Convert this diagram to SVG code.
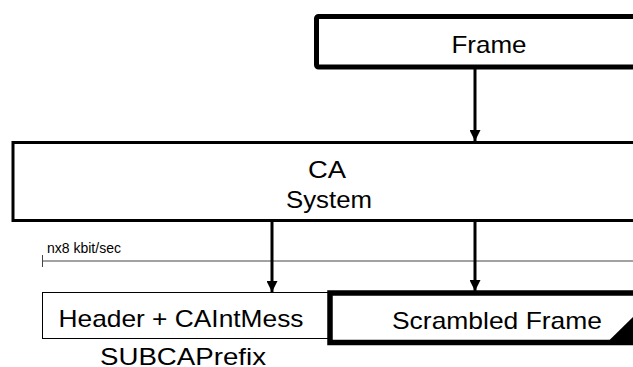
<svg xmlns="http://www.w3.org/2000/svg" width="633" height="367" viewBox="0 0 633 367">
<style>
text{font-family:"Liberation Sans",Arial,sans-serif;fill:#000}
.big{font-size:24px;text-anchor:middle}
.mid{font-size:23px;text-anchor:middle}
.small{font-size:14px}
.box{fill:#fff;stroke:#000}
.conn{stroke:#000;stroke-width:3;fill:none}
</style>
<defs>
<marker id="ah" markerWidth="12" markerHeight="11" refX="11" refY="5.5" orient="auto" markerUnits="userSpaceOnUse">
<path d="M0,0 L11,5.5 L0,11 Z" fill="#000"/>
</marker>
</defs>
<rect width="633" height="367" fill="#fff"/>
<g id="frame">
<rect class="box" x="316.5" y="16.5" width="340" height="50.5" rx="2" stroke-width="5"/>
<text class="big" x="489" y="53" textLength="75" lengthAdjust="spacingAndGlyphs">Frame</text>
</g>
<g id="ca-system">
<rect class="box" x="13" y="142.5" width="640" height="78" stroke-width="3"/>
<text class="mid" x="327" y="177.5" textLength="38" lengthAdjust="spacingAndGlyphs">CA</text>
<text class="mid" x="329" y="207.5" textLength="86" lengthAdjust="spacingAndGlyphs">System</text>
</g>
<g id="rate">
<line x1="42.5" y1="261" x2="633" y2="261" stroke="#444" stroke-width="1"/>
<line x1="42.5" y1="255" x2="42.5" y2="267" stroke="#444" stroke-width="1"/>
<text class="small" x="47" y="253">nx8 kbit/sec</text>
</g>
<g id="header">
<rect class="box" x="42.5" y="292.5" width="287" height="46" stroke-width="1"/>
<text class="big" x="181" y="327.3" textLength="245" lengthAdjust="spacingAndGlyphs">Header + CAIntMess</text>
</g>
<g id="scrambled">
<rect class="box" x="330" y="293" width="330" height="49.5" stroke-width="5.5"/>
<polygon points="607,342.5 636,342.5 636,314" fill="#000"/>
<text class="big" x="497" y="329.3" textLength="210" lengthAdjust="spacingAndGlyphs">Scrambled Frame</text>
</g>
<g id="subcaprefix">
<text class="big" x="183" y="364.5" textLength="166" lengthAdjust="spacingAndGlyphs">SUBCAPrefix</text>
</g>
<g id="connectors">
<line class="conn" x1="475" y1="69" x2="475" y2="141" marker-end="url(#ah)"/>
<line class="conn" x1="272" y1="222" x2="272" y2="292" marker-end="url(#ah)"/>
<line class="conn" x1="475" y1="222" x2="475" y2="291" marker-end="url(#ah)"/>
</g>
</svg>
